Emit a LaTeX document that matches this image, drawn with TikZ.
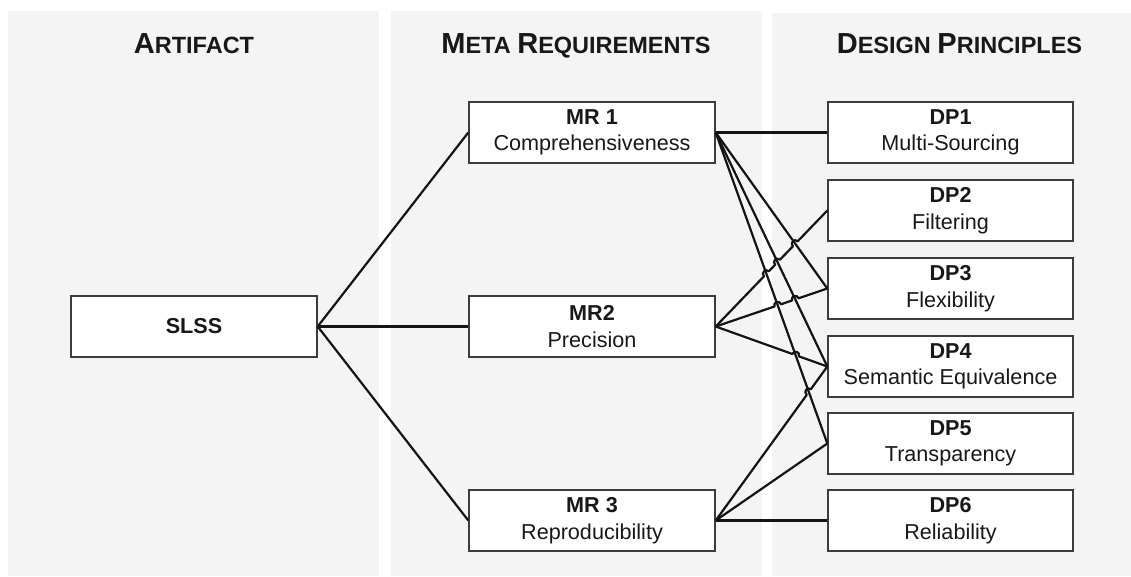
\documentclass[tikz,border=0pt]{standalone}
\usepackage{fontspec}
\setmainfont{Liberation Sans}
\usetikzlibrary{calc,intersections}
\definecolor{panelgray}{RGB}{244,244,244}
\definecolor{boxline}{RGB}{60,60,60}
\definecolor{connline}{RGB}{20,20,20}
\definecolor{txt}{RGB}{24,24,24}
\newcommand\hbig[1]{{\fontsize{29}{32}\selectfont #1}}
\newcommand\hsmall[1]{{\fontsize{23.5}{28}\selectfont #1}}
\tikzset{
  panel/.style={fill=panelgray, draw=none},
  heading/.style={font=\bfseries, text=txt, anchor=base, inner sep=0pt},
  box/.style={draw=boxline, line width=1.4pt, fill=white, minimum width=246pt,
    minimum height=61pt, inner sep=0pt, align=center, text=txt,
    font=\fontsize{21.6}{26.5}\selectfont},
  conn/.style={draw=connline, line width=2.2pt, line join=round},
  hop/.style={bend left=90, looseness=1.7}
}
\begin{document}
\begin{tikzpicture}[x=1pt,y=-1pt]
\useasboundingbox (0,0) rectangle (1131,576);
\fill[white] (0,0) rectangle (1131,576);
% panels
\path[panel] (8,11) rectangle (379,576);
\path[panel] (391,11) rectangle (762,576);
\path[panel] (772,13) rectangle (1131,576);
% headings
\node[heading] (h1) at (194,53) {\hbig{A}\hsmall{RTIFACT}};
\node[heading] (h2) at (576,53) {\hbig{M}\hsmall{ETA }\hbig{R}\hsmall{EQUIREMENTS}};
\node[heading] (h3) at (959.5,53) {\hbig{D}\hsmall{ESIGN }\hbig{P}\hsmall{RINCIPLES}};
% boxes
\node[box] (slss) at (194,326.5) {\textbf{SLSS}};
\node[box] (mr1) at (592,132.5) {\textbf{MR 1}\\Comprehensiveness};
\node[box] (mr2) at (592,326.5) {\textbf{MR2}\\Precision};
\node[box] (mr3) at (592,520.5) {\textbf{MR 3}\\Reproducibility};
\node[box, minimum width=245pt] (dp1) at (950.5,132.5) {\textbf{DP1}\\Multi-Sourcing};
\node[box, minimum width=245pt] (dp2) at (950.5,210.5) {\textbf{DP2}\\Filtering};
\node[box, minimum width=245pt] (dp3) at (950.5,288.5) {\textbf{DP3}\\Flexibility};
\node[box, minimum width=245pt] (dp4) at (950.5,366.5) {\textbf{DP4}\\Semantic Equivalence};
\node[box, minimum width=245pt] (dp5) at (950.5,443.5) {\textbf{DP5}\\Transparency};
\node[box, minimum width=245pt] (dp6) at (950.5,520.5) {\textbf{DP6}\\Reliability};
% artifact to MR
\draw[conn] (slss.east) -- (mr1.west);
\draw[conn] (slss.east) -- (mr2.west);
\draw[conn] (slss.east) -- (mr3.west);
% MR1 lines (plain)
\draw[conn] (mr1.east) -- (dp1.west);
\draw[conn, name path=a3] (mr1.east) -- (dp3.west);
\draw[conn, name path=a4] (mr1.east) -- (dp4.west);
\draw[conn, name path=a5] (mr1.east) -- (dp5.west);
% hopping lines: paths for intersections
\path[name path=b2] (mr2.east) -- (dp2.west);
\path[name path=b3] (mr2.east) -- (dp3.west);
\path[name path=b4] (mr2.east) -- (dp4.west);
\path[name path=c4] (mr3.east) -- (dp4.west);
\path[name intersections={of=b2 and a5, by=x25}];
\path[name intersections={of=b2 and a4, by=x24}];
\path[name intersections={of=b2 and a3, by=x23}];
\path[name intersections={of=b3 and a5, by=x35}];
\path[name intersections={of=b3 and a4, by=x34}];
\path[name intersections={of=b4 and a5, by=x45}];
\path[name intersections={of=c4 and a5, by=y45}];
% MR2 lines
\draw[conn] (mr2.east) -- ($(x25)!3.5pt!(mr2.east)$) to[hop] ($(x25)!3.5pt!(dp2.west)$)
  -- ($(x24)!3.5pt!(mr2.east)$) to[hop] ($(x24)!3.5pt!(dp2.west)$)
  -- ($(x23)!3.5pt!(mr2.east)$) to[hop] ($(x23)!3.5pt!(dp2.west)$) -- (dp2.west);
\draw[conn] (mr2.east) -- ($(x35)!3.5pt!(mr2.east)$) to[hop] ($(x35)!3.5pt!(dp3.west)$)
  -- ($(x34)!3.5pt!(mr2.east)$) to[hop] ($(x34)!3.5pt!(dp3.west)$) -- (dp3.west);
\draw[conn] (mr2.east) -- ($(x45)!3.5pt!(mr2.east)$) to[hop] ($(x45)!3.5pt!(dp4.west)$) -- (dp4.west);
% MR3 lines
\draw[conn] (mr3.east) -- ($(y45)!3.5pt!(mr3.east)$) to[hop] ($(y45)!3.5pt!(dp4.west)$) -- (dp4.west);
\draw[conn] (mr3.east) -- (dp5.west);
\draw[conn] (mr3.east) -- (dp6.west);
\end{tikzpicture}
\end{document}
